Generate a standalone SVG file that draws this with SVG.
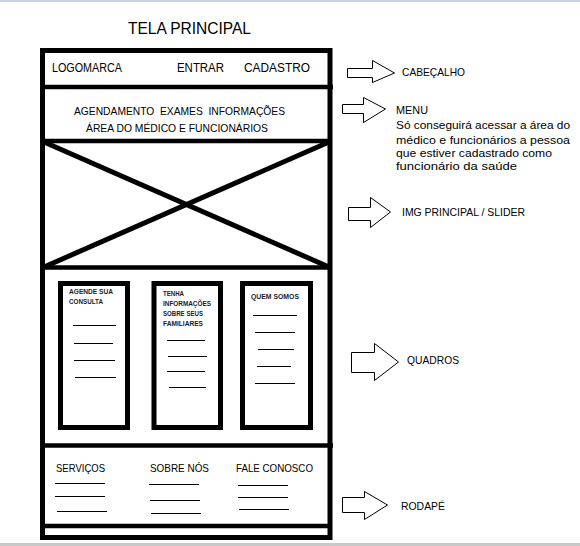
<svg xmlns="http://www.w3.org/2000/svg" width="580" height="546" viewBox="0 0 580 546">
<style>
.t{font-family:"Liberation Sans",Arial,sans-serif;fill:#000}
.frame{fill:none;stroke:#000;stroke-width:5}
.sep{stroke:#000;stroke-width:4.5}
.ln{stroke:#000;stroke-width:1}
.arrow{fill:#fff;stroke:#000;stroke-width:1}
.sm{font-size:7px;font-weight:bold;fill:#1a1a2a}
.pre{white-space:pre}
</style>
<rect x="0" y="0" width="580" height="546" fill="#fff"/>
<rect x="0" y="0" width="580" height="2" fill="#c9d2e2"/>
<rect x="0" y="543" width="580" height="3" fill="#c8c8c8"/>
<text class="t" x="128" y="34" font-size="16" textLength="123" lengthAdjust="spacingAndGlyphs">TELA PRINCIPAL</text>
<g id="frame"><rect class="frame" x="42.5" y="50.5" width="287.5" height="487"/></g>
<g id="cabecalho">
<line class="sep" x1="40" y1="87" x2="333" y2="87"/>
<text class="t" x="52" y="72" font-size="12" textLength="70" lengthAdjust="spacingAndGlyphs">LOGOMARCA</text>
<text class="t" x="177" y="72" font-size="12" textLength="47" lengthAdjust="spacingAndGlyphs">ENTRAR</text>
<text class="t" x="244" y="72" font-size="12" textLength="66" lengthAdjust="spacingAndGlyphs">CADASTRO</text>
</g>
<g id="menu">
<line class="sep" x1="40" y1="141" x2="332" y2="141"/>
<text class="t pre" x="74" y="115" font-size="11" textLength="211" lengthAdjust="spacingAndGlyphs" xml:space="preserve">AGENDAMENTO  EXAMES  INFORMAÇÕES</text>
<text class="t" x="86" y="132" font-size="11" textLength="182" lengthAdjust="spacingAndGlyphs">ÁREA DO MÉDICO E FUNCIONÁRIOS</text>
</g>
<g id="slider">
<line class="sep" x1="40" y1="267.5" x2="332" y2="267.5"/>
<line x1="44" y1="142" x2="329" y2="267" stroke="#000" stroke-width="5"/>
<line x1="44" y1="267" x2="329" y2="142" stroke="#000" stroke-width="5"/>
</g>
<g id="quadros">
<g id="quadro1">
<rect class="frame" x="60.5" y="283.5" width="67" height="144"/>
<text class="t sm" x="69" y="294" textLength="44" lengthAdjust="spacingAndGlyphs">AGENDE SUA</text>
<text class="t sm" x="69" y="304" textLength="34" lengthAdjust="spacingAndGlyphs">CONSULTA</text>
<line class="ln" x1="73" y1="325.5" x2="116" y2="325.5"/>
<line class="ln" x1="74" y1="343.5" x2="113" y2="343.5"/>
<line class="ln" x1="74" y1="360.5" x2="115" y2="360.5"/>
<line class="ln" x1="75" y1="377.5" x2="116" y2="377.5"/>
</g>
<g id="quadro2">
<rect class="frame" x="154" y="283.5" width="66.5" height="144"/>
<text class="t sm" x="163" y="296" textLength="21" lengthAdjust="spacingAndGlyphs">TENHA</text>
<text class="t sm" x="163" y="306" textLength="48" lengthAdjust="spacingAndGlyphs">INFORMAÇÕES</text>
<text class="t sm" x="163" y="316" textLength="40" lengthAdjust="spacingAndGlyphs">SOBRE SEUS</text>
<text class="t sm" x="163" y="326" textLength="40" lengthAdjust="spacingAndGlyphs">FAMILIARES</text>
<line class="ln" x1="167" y1="340.5" x2="205" y2="340.5"/>
<line class="ln" x1="168" y1="356.5" x2="207" y2="356.5"/>
<line class="ln" x1="167" y1="371.5" x2="205" y2="371.5"/>
<line class="ln" x1="169" y1="387.5" x2="206" y2="387.5"/>
</g>
<g id="quadro3">
<rect class="frame" x="242.5" y="283.5" width="68" height="144"/>
<text class="t sm" x="251" y="299" textLength="48" lengthAdjust="spacingAndGlyphs">QUEM SOMOS</text>
<line class="ln" x1="253" y1="315.5" x2="297" y2="315.5"/>
<line class="ln" x1="255" y1="332.5" x2="295" y2="332.5"/>
<line class="ln" x1="258" y1="349.5" x2="294" y2="349.5"/>
<line class="ln" x1="257" y1="366.5" x2="291" y2="366.5"/>
<line class="ln" x1="255" y1="383.5" x2="295" y2="383.5"/>
</g>
</g>
<g id="rodape">
<line class="sep" x1="40" y1="445.5" x2="333" y2="445.5"/>
<line class="sep" x1="40" y1="526" x2="332" y2="526"/>
<text class="t" x="56" y="472" font-size="11.5" textLength="49" lengthAdjust="spacingAndGlyphs">SERVIÇOS</text>
<text class="t" x="150" y="472" font-size="11.5" textLength="59" lengthAdjust="spacingAndGlyphs">SOBRE NÓS</text>
<text class="t" x="236" y="472" font-size="11.5" textLength="77" lengthAdjust="spacingAndGlyphs">FALE CONOSCO</text>
<line class="ln" x1="55" y1="483.5" x2="105" y2="483.5"/>
<line class="ln" x1="55" y1="496.5" x2="105" y2="496.5"/>
<line class="ln" x1="57" y1="511.5" x2="107" y2="511.5"/>
<line class="ln" x1="149" y1="484.5" x2="199" y2="484.5"/>
<line class="ln" x1="150" y1="500.5" x2="200" y2="500.5"/>
<line class="ln" x1="151" y1="513.5" x2="201" y2="513.5"/>
<line class="ln" x1="238" y1="485.5" x2="288" y2="485.5"/>
<line class="ln" x1="238" y1="497.5" x2="288" y2="497.5"/>
<line class="ln" x1="239" y1="509.5" x2="289" y2="509.5"/>
</g>
<g id="connectors">
<polygon class="arrow" points="347.5,68.5 372.5,68.5 372.5,60.5 394.5,73 372.5,82.5 372.5,77.5 347.5,77.5"/>
<polygon class="arrow" points="342.5,104.5 363.5,104.5 363.5,97.5 385.5,109 363.5,122.5 363.5,113.5 342.5,113.5"/>
<polygon class="arrow" points="348.5,207.5 370.5,207.5 370.5,197.5 390.5,212 370.5,227.5 370.5,220.5 348.5,220.5"/>
<polygon class="arrow" points="351.5,352.5 374.5,352.5 374.5,343.5 398.5,362 374.5,380.5 374.5,372.5 351.5,372.5"/>
<polygon class="arrow" points="342.5,497.5 364.5,497.5 364.5,491.5 387.5,505 364.5,519.5 364.5,512.5 342.5,512.5"/>
</g>
<g id="labels">
<text class="t" x="402" y="76" font-size="11" textLength="63" lengthAdjust="spacingAndGlyphs">CABEÇALHO</text>
<text class="t" x="396" y="114" font-size="11" textLength="32" lengthAdjust="spacingAndGlyphs">MENU</text>
<text class="t" x="396" y="129" font-size="11" textLength="174" lengthAdjust="spacingAndGlyphs">Só conseguirá acessar a área do</text>
<text class="t" x="396" y="144" font-size="11" textLength="174" lengthAdjust="spacingAndGlyphs">médico e funcionários a pessoa</text>
<text class="t" x="396" y="157" font-size="11" textLength="156" lengthAdjust="spacingAndGlyphs">que estiver cadastrado como</text>
<text class="t" x="396" y="170" font-size="11" textLength="121" lengthAdjust="spacingAndGlyphs">funcionário da saúde</text>
<text class="t" x="402" y="216" font-size="11" textLength="123" lengthAdjust="spacingAndGlyphs">IMG PRINCIPAL / SLIDER</text>
<text class="t" x="407" y="364" font-size="11" textLength="52" lengthAdjust="spacingAndGlyphs">QUADROS</text>
<text class="t" x="401" y="510" font-size="11" textLength="44" lengthAdjust="spacingAndGlyphs">RODAPÉ</text>
</g>
</svg>
